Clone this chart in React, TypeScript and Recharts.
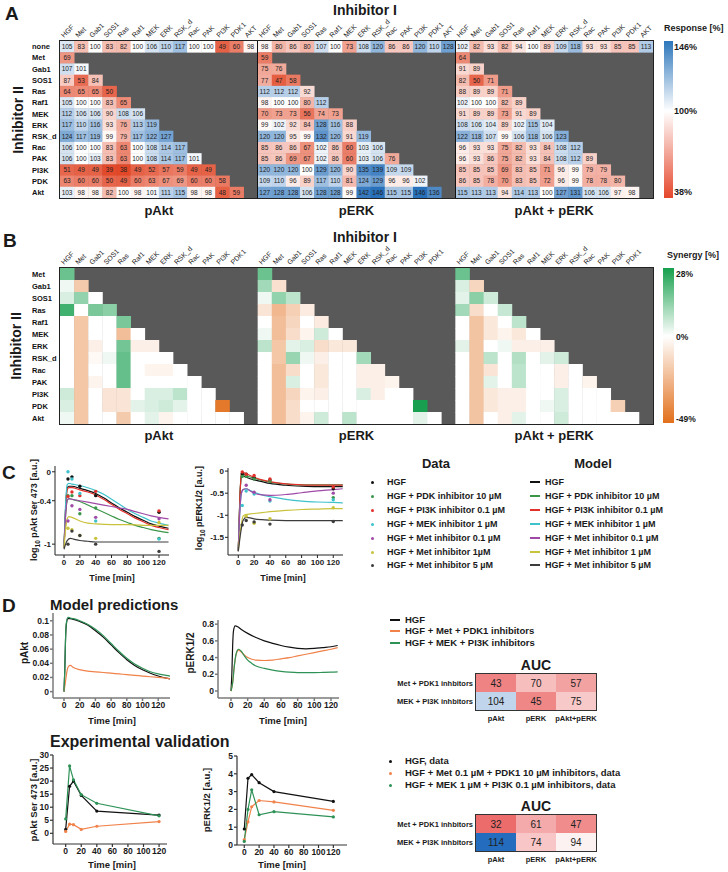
import React from 'react';
import { ScatterChart, Scatter, XAxis, YAxis, ComposedChart, Line } from 'recharts';

const FONT = '"Liberation Sans", Arial, Helvetica, sans-serif';

// ---------- Panel A data ----------
const respCols = ['HGF', 'Met', 'Gab1', 'SOS1', 'Ras', 'Raf1', 'MEK', 'ERK', 'RSK_d', 'Rac', 'PAK', 'PI3K', 'PDK1', 'AKT'];
const respRows = ['none', 'Met', 'Gab1', 'SOS1', 'Ras', 'Raf1', 'MEK', 'ERK', 'RSK_d', 'Rac', 'PAK', 'PI3K', 'PDK', 'Akt'];
const blockNames = ['pAkt', 'pERK', 'pAkt + pERK'];

const respPAkt = [
  [105, 83, 100, 83, 82, 100, 106, 110, 117, 100, 100, 49, 60, 98],
  [69],
  [107, 101],
  [87, 53, 84],
  [64, 65, 65, 50],
  [105, 100, 100, 83, 65],
  [112, 106, 106, 90, 108, 106],
  [117, 110, 116, 93, 76, 113, 119],
  [124, 117, 119, 99, 79, 117, 122, 127],
  [106, 100, 100, 83, 63, 100, 108, 114, 117],
  [106, 100, 103, 83, 63, 100, 108, 114, 117, 101],
  [51, 49, 49, 39, 38, 49, 52, 57, 59, 49, 49],
  [63, 60, 60, 50, 49, 60, 63, 67, 69, 60, 60, 58],
  [103, 98, 98, 82, 100, 98, 101, 111, 115, 98, 98, 48, 59],
];
const respPERK = [
  [98, 80, 86, 80, 107, 100, 73, 108, 120, 86, 86, 120, 110, 128],
  [59],
  [75, 76],
  [77, 47, 58],
  [112, 112, 112, 92],
  [98, 100, 100, 80, 112],
  [70, 73, 73, 56, 74, 73],
  [99, 102, 92, 84, 128, 116, 88],
  [120, 120, 95, 99, 132, 120, 91, 119],
  [85, 86, 86, 67, 102, 86, 60, 103, 106],
  [85, 86, 69, 67, 102, 86, 60, 103, 106, 76],
  [120, 120, 120, 100, 129, 120, 90, 135, 139, 109, 109],
  [109, 110, 96, 89, 117, 110, 81, 124, 129, 96, 96, 102],
  [127, 128, 128, 106, 128, 128, 99, 142, 146, 115, 115, 146, 136],
];
const respBoth = [
  [102, 82, 93, 82, 94, 100, 89, 109, 118, 93, 93, 85, 85, 113],
  [64],
  [91, 89],
  [82, 50, 71],
  [88, 89, 89, 71],
  [102, 100, 100, 82, 89],
  [91, 89, 89, 73, 91, 89],
  [108, 106, 104, 89, 102, 115, 104],
  [122, 118, 107, 99, 106, 118, 106, 123],
  [96, 93, 93, 75, 82, 93, 84, 108, 112],
  [96, 93, 86, 75, 82, 93, 84, 108, 112, 89],
  [85, 85, 85, 69, 83, 85, 71, 96, 99, 79, 79],
  [86, 85, 78, 70, 83, 85, 72, 96, 99, 78, 78, 80],
  [115, 113, 113, 94, 114, 113, 100, 127, 131, 106, 106, 97, 98],
];

// ---------- Panel B data ----------
const synCols = ['HGF', 'Met', 'Gab1', 'SOS1', 'Ras', 'Raf1', 'MEK', 'ERK', 'RSK_d', 'Rac', 'PAK', 'PI3K', 'PDK1'];
const synRows = ['Met', 'Gab1', 'SOS1', 'Ras', 'Raf1', 'MEK', 'ERK', 'RSK_d', 'Rac', 'PAK', 'PI3K', 'PDK', 'Akt'];
const synPAkt = [
  [16],
  [1, -14],
  [3, 11, 0],
  [22, 0, 14, 12],
  [0, -15, 0, 0, 14],
  [0, -15, 0, 0, -18, 0],
  [0, -15, -3, 0, 15, -3, -3],
  [0, -15, -1, 1, 17, 0, 0, 0],
  [0, -15, 0, 0, 17, 0, -2, -2, 0],
  [0, -15, -2, 0, 17, 0, 0, 0, 0, 0],
  [4, -15, 0, -6, -6, 0, 3, 3, 6, 0, 0],
  [3, -15, 0, -6, -6, 2, 3, 4, 2, 0, 0, -45],
  [1, -15, 0, 0, -14, 0, 2, -2, 0, 0, 0, 0, 0],
];
const synPERK = [
  [16],
  [9, -7],
  [1, 11, 6],
  [-6, -20, -12, -4],
  [0, -18, -10, 0, -4],
  [1, -18, -8, -2, 4, 0],
  [6, -15, 2, 3, -8, -5, -5],
  [0, -15, 10, 1, -3, 0, 0, 9],
  [0, -18, -8, 0, -5, 0, 0, -3, -3],
  [0, -18, 3, 0, -5, 0, 0, -3, -3, -2],
  [0, -18, -10, -2, -3, 0, 0, 3, -3, 0, 0],
  [0, -18, -8, 0, 0, 0, 0, 0, 0, 0, 0, 28],
  [0, -18, -8, -2, 4, 0, 6, 0, 0, 0, 0, 2, 0],
];
const synBoth = [
  [16],
  [3, -10],
  [2, 12, 4],
  [9, -8, 0, 5],
  [0, -16, -5, 0, 6],
  [0, -16, -5, -2, -5, 0],
  [2, -16, 0, 1, -3, -3, -3],
  [0, -16, 6, 0, 7, 0, 2, 4],
  [0, -16, -6, 0, 6, 0, 0, -3, 0],
  [0, -16, 2, 0, 6, 0, 0, -3, 0, -2],
  [0, -16, -5, -3, -3, 0, 0, 3, 0, 0, 0],
  [0, -16, -5, -3, -3, 0, 1, 3, 0, 0, 0, -12],
  [0, -16, 0, -3, 2, 0, 0, 4, 0, 0, 0, 0, 0],
];

// ---------- Panel C data ----------
const timeTicks = [0, 20, 40, 60, 80, 100, 120];
const cLabels = ['HGF', 'HGF + PDK inhibitor 10 µM', 'HGF + PI3K inhibitor 0.1 µM', 'HGF + MEK inhibitor 1 µM', 'HGF + Met inhibitor 0.1 µM', 'HGF + Met inhibitor 1µM', 'HGF + Met inhibitor 5 µM'];
const cModelLabels = ['HGF', 'HGF + PDK inhibitor 10 µM', 'HGF + PI3K inhibitor 0.1 µM', 'HGF + MEK inhibitor 1 µM', 'HGF + Met inhibitor 0.1 µM', 'HGF + Met inhibitor 1 µM', 'HGF + Met inhibitor 5 µM'];
const cColors = ['#111111', '#3a9548', '#e2302b', '#3ec2cb', '#a04aa8', '#c9c23c', '#3c3c3c'];

const aktModelHGF = [[0, -1.05], [2, -0.5], [4, -0.22], [6, -0.2], [10, -0.2], [20, -0.23], [30, -0.26], [40, -0.3], [50, -0.36], [60, -0.43], [70, -0.5], [80, -0.56], [90, -0.62], [100, -0.67], [110, -0.72], [120, -0.75], [132, -0.78]];
const aktModelPDK = [[0, -1.05], [2, -0.6], [4, -0.4], [6, -0.37], [10, -0.38], [20, -0.41], [30, -0.46], [40, -0.51], [50, -0.56], [60, -0.61], [70, -0.66], [80, -0.7], [90, -0.74], [100, -0.77], [110, -0.8], [120, -0.82], [132, -0.84]];
const aktModelPI3K = [[0, -1.05], [2, -0.52], [4, -0.25], [6, -0.22], [10, -0.22], [20, -0.25], [30, -0.28], [40, -0.32], [50, -0.38], [60, -0.45], [70, -0.52], [80, -0.58], [90, -0.64], [100, -0.69], [110, -0.74], [120, -0.77], [132, -0.8]];
const aktModelMEK = [[0, -1.05], [2, -0.45], [4, -0.18], [6, -0.16], [10, -0.17], [20, -0.19], [30, -0.22], [40, -0.26], [50, -0.31], [60, -0.38], [70, -0.45], [80, -0.52], [90, -0.58], [100, -0.63], [110, -0.68], [120, -0.71], [132, -0.74]];
const aktModelMet01 = [[0, -1.05], [2, -0.6], [4, -0.39], [6, -0.37], [10, -0.38], [20, -0.4], [30, -0.42], [40, -0.44], [50, -0.46], [60, -0.48], [70, -0.5], [80, -0.52], [90, -0.55], [100, -0.58], [110, -0.61], [120, -0.63], [132, -0.65]];
const aktModelMet1 = [[0, -1.05], [2, -0.8], [4, -0.65], [6, -0.62], [10, -0.63], [20, -0.68], [30, -0.71], [40, -0.72], [60, -0.73], [80, -0.73], [100, -0.74], [120, -0.74], [132, -0.74]];
const aktModelMet5 = [[0, -1.07], [2, -1.0], [4, -0.95], [8, -0.92], [12, -0.93], [20, -0.95], [30, -0.96], [40, -0.97], [60, -0.97], [80, -0.97], [100, -0.97], [120, -0.97], [132, -0.97]];

const aktDataHGF = [[5, -0.1], [10, -0.07], [20, -0.2], [40, -0.33], [120, -0.56]];
const aktDataPDK = [[5, -0.33], [10, -0.33], [20, -0.58], [40, -0.5], [120, -0.92]];
const aktDataPI3K = [[5, -0.34], [10, -0.28], [20, -0.33], [40, -0.27], [120, -0.54]];
const aktDataMEK = [[5, 0.0], [10, -0.1], [20, -0.3], [40, -0.68], [120, -0.93]];
const aktDataMet01 = [[5, -0.68], [10, -0.47], [20, -0.52], [40, -0.63], [120, -0.65]];
const aktDataMet1 = [[5, -0.78], [10, -0.8], [20, -0.88], [40, -0.92], [120, -0.7]];
const aktDataMet5 = [[5, -1.0], [10, -0.82], [20, -0.88], [40, -1.0], [120, -1.1]];

const erkModelHGF = [[0, -1.8], [2, -0.62], [4, -0.12], [6, -0.11], [10, -0.14], [20, -0.2], [30, -0.24], [40, -0.28], [60, -0.32], [80, -0.34], [100, -0.35], [120, -0.35], [132, -0.35]];
const erkModelPDK = [[0, -1.8], [2, -0.6], [4, -0.08], [6, -0.07], [10, -0.1], [20, -0.16], [30, -0.21], [40, -0.25], [60, -0.29], [80, -0.31], [100, -0.31], [120, -0.31], [132, -0.31]];
const erkModelPI3K = [[0, -1.8], [2, -0.6], [4, -0.05], [6, -0.03], [10, -0.06], [20, -0.14], [30, -0.2], [40, -0.24], [60, -0.29], [80, -0.31], [100, -0.32], [120, -0.32], [132, -0.32]];
const erkModelMEK = [[0, -1.8], [2, -0.9], [4, -0.5], [6, -0.42], [10, -0.4], [15, -0.44], [20, -0.48], [30, -0.54], [40, -0.58], [60, -0.64], [80, -0.68], [100, -0.7], [120, -0.71], [132, -0.72]];
const erkModelMet01 = [[0, -1.8], [2, -0.9], [4, -0.5], [6, -0.42], [10, -0.4], [15, -0.45], [20, -0.5], [30, -0.54], [40, -0.55], [60, -0.53], [80, -0.49], [100, -0.45], [120, -0.42], [132, -0.4]];
const erkModelMet1 = [[0, -1.8], [3, -1.3], [6, -1.02], [10, -0.98], [15, -0.97], [20, -0.96], [30, -0.94], [40, -0.92], [60, -0.89], [80, -0.87], [100, -0.86], [120, -0.85], [132, -0.85]];
const erkModelMet5 = [[0, -1.82], [3, -1.4], [6, -1.12], [10, -1.05], [15, -1.06], [20, -1.08], [30, -1.1], [40, -1.11], [60, -1.12], [80, -1.12], [100, -1.12], [120, -1.12], [132, -1.12]];

const erkDataHGF = [[5, -0.06], [10, -0.07], [20, -0.15], [40, -0.2], [120, -0.4]];
const erkDataPDK = [[5, -0.12], [10, -0.12], [20, -0.18], [40, -0.22], [120, -0.6]];
const erkDataPI3K = [[5, -0.02], [10, -0.07], [20, -0.1], [40, -0.18], [120, -0.36]];
const erkDataMEK = [[5, -0.78], [10, -0.45], [20, -0.52], [40, -0.68], [120, -0.65]];
const erkDataMet01 = [[10, -0.32], [20, -0.48], [40, -0.65], [120, -0.5]];
const erkDataMet1 = [[10, -1.02], [20, -1.18], [40, -1.08], [120, -0.83]];
const erkDataMet5 = [[5, -1.22], [10, -1.12], [20, -1.15], [40, -1.2], [120, -1.14]];

// ---------- Panel D data ----------
const dLabels = ['HGF', 'HGF + Met + PDK1 inhibitors', 'HGF + MEK + PI3K inhibitors'];
const dDataLabels = ['HGF, data', 'HGF + Met 0.1 µM + PDK1 10 µM inhibitors, data', 'HGF + MEK 1 µM + PI3K 0.1 µM inhibitors, data'];
const dColors = ['#111111', '#f0824a', '#2e9257'];

const predAktHGF = [[0, 0], [1, 0.03], [2, 0.075], [3, 0.095], [5, 0.103], [8, 0.103], [12, 0.102], [20, 0.099], [30, 0.094], [40, 0.086], [50, 0.077], [60, 0.066], [70, 0.055], [80, 0.045], [90, 0.037], [100, 0.031], [110, 0.026], [120, 0.022], [130, 0.019], [135, 0.018]];
const predAktMetPDK = [[0, 0], [2, 0.015], [4, 0.03], [6, 0.036], [8, 0.037], [12, 0.034], [20, 0.031], [30, 0.029], [40, 0.028], [50, 0.027], [60, 0.026], [70, 0.025], [80, 0.024], [90, 0.023], [100, 0.022], [110, 0.021], [120, 0.02], [130, 0.019], [135, 0.018]];
const predAktMEKPI3K = [[0, 0], [1, 0.03], [2, 0.076], [3, 0.097], [5, 0.105], [8, 0.104], [12, 0.103], [20, 0.1], [30, 0.095], [40, 0.088], [50, 0.079], [60, 0.068], [70, 0.057], [80, 0.047], [90, 0.039], [100, 0.033], [110, 0.028], [120, 0.025], [130, 0.023], [135, 0.022]];
const predErkHGF = [[0, 0], [1, 0.2], [2, 0.55], [3, 0.72], [5, 0.78], [8, 0.77], [12, 0.74], [20, 0.69], [30, 0.64], [40, 0.6], [50, 0.57], [60, 0.545], [70, 0.525], [80, 0.51], [90, 0.505], [100, 0.51], [110, 0.52], [120, 0.53], [128, 0.545]];
const predErkMetPDK = [[0, 0], [2, 0.1], [4, 0.3], [6, 0.43], [9, 0.49], [12, 0.47], [16, 0.43], [20, 0.4], [25, 0.38], [30, 0.37], [40, 0.365], [50, 0.37], [60, 0.385], [70, 0.4], [80, 0.42], [90, 0.44], [100, 0.46], [110, 0.48], [120, 0.5], [128, 0.52]];
const predErkMEKPI3K = [[0, 0], [2, 0.1], [4, 0.3], [6, 0.44], [9, 0.5], [12, 0.48], [16, 0.42], [20, 0.37], [25, 0.33], [30, 0.3], [40, 0.27], [50, 0.25], [60, 0.235], [70, 0.225], [80, 0.22], [90, 0.22], [100, 0.22], [110, 0.222], [120, 0.225], [128, 0.23]];

const expAktHGF = [[0, 1.5], [5, 18], [10, 20], [20, 14.5], [40, 8.5], [120, 7.0]];
const expAktMetPDK = [[0, 0.7], [5, 3.5], [10, 3.3], [20, 1.5], [40, 2.7], [120, 4.5]];
const expAktMEKPI3K = [[0, 5.5], [5, 25.8], [10, 20.5], [20, 14.8], [40, 11.5], [120, 6.7]];
const expErkHGF = [[0, 0.9], [5, 3.75], [10, 3.95], [20, 3.5], [40, 3.0], [120, 2.45]];
const expErkMetPDK = [[0, 0.3], [5, 1.3], [10, 2.15], [20, 2.5], [40, 2.42], [120, 1.95]];
const expErkMEKPI3K = [[0, 0.2], [5, 2.0], [10, 3.1], [20, 1.7], [40, 1.87], [120, 1.58]];

const aucRows = ['Met + PDK1 inhbitors', 'MEK + PI3K inhbitors'];
const aucCols = ['pAkt', 'pERK', 'pAkt+pERK'];
const aucModel = [[43, 70, 57], [104, 45, 75]];
const aucExp = [[32, 61, 47], [114, 74, 94]];

// ---------- helpers ----------
type Pt = { t: number; y: number };
const pts = (arr: number[][]): Pt[] => arr.map(([t, y]) => ({ t, y }));

function mix(c: number[], t: number) {
  const k = Math.max(0, Math.min(1, t));
  return `rgb(${Math.round(255 + (c[0] - 255) * k)},${Math.round(255 + (c[1] - 255) * k)},${Math.round(255 + (c[2] - 255) * k)})`;
}
const respColor = (v: number) =>
  v < 100 ? mix([226, 72, 40], Math.pow((100 - v) / 62, 0.8)) : mix([40, 112, 186], Math.pow((v - 100) / 46, 0.8));
const synColor = (v: number) =>
  v >= 0 ? mix([24, 160, 80], Math.pow(v / 28, 0.8)) : mix([226, 110, 28], Math.pow(-v / 49, 0.8));
const aucColor = (v: number) =>
  v < 100 ? mix([234, 92, 92], (100 - v) / 75) : mix([36, 108, 190], (v - 100) / 14);

type Cell = { x: number; y: number; v: number };
function buildCells(blocks: number[][][]): Cell[] {
  const out: Cell[] = [];
  blocks.forEach((rows, b) => rows.forEach((vals, r) => vals.forEach((v, c) => out.push({ x: b * 14 + c + 0.5, y: r + 0.5, v }))));
  return out;
}

const Txt = (p: { x: number; y: number; s?: number; b?: boolean; a?: string; r?: number; c?: string; children: React.ReactNode }) => {
  const { x, y, s = 9, b = true, a = 'start', r = 0, c = '#1a1a1a', children } = p;
  const tx = a === 'start' ? '0' : a === 'middle' ? '-50%' : '-100%';
  const transform = r ? `translate(-50%,-50%) rotate(${r}deg)` : `translate(${tx},-50%)`;
  return (
    <div style={{ position: 'absolute', left: x, top: y, transform, fontSize: s, fontWeight: b ? 700 : 400, color: c, whiteSpace: 'nowrap', lineHeight: 1 }}>
      {children}
    </div>
  );
};

const LegLine = (p: { x: number; y: number; c: string }) => (
  <div style={{ position: 'absolute', left: p.x, top: Math.round(p.y) - 1, width: 10, height: 2, background: p.c }} />
);
const LegDot = (p: { x: number; y: number; c: string }) => (
  <div style={{ position: 'absolute', left: p.x - 1.5, top: Math.round(p.y) - 1.5, width: 3.2, height: 3.2, borderRadius: 2, background: p.c }} />
);

const PLOT_L = 60;
const PLOT_W = 593;

function Heatmap(props: { top: number; height: number; mt: number; mb: number; rows: string[]; cols: string[]; cells: Cell[]; colorFn: (v: number) => string; showText: boolean; seps: boolean }) {
  const { top, height, mt, mb, rows, cols, cells, colorFn, showText, seps } = props;
  const XH = 30, YW = 30, ML = 30, MR = 728 - PLOT_L - PLOT_W;
  const plotTop = mt + XH;
  const plotH = height - mt - mb - XH;
  const nR = rows.length;
  const colW = PLOT_W / 42;
  const rowH = plotH / nR;
  const xTicks: number[] = [];
  for (let b = 0; b < 3; b++) for (let c = 0; c < cols.length; c++) xTicks.push(b * 14 + c + 0.5);
  const yTicks = rows.map((_, i) => i + 0.5);
  const colTick = (p: any) => {
    const v = p.payload.value as number;
    const lbl = cols[Math.floor(v) % 14];
    const x = p.x - 3;
    const y = plotTop - 3;
    return (
      <text x={x} y={y} transform={`rotate(-45 ${x} ${y})`} fontSize={7} fill="#222" textAnchor="start">
        {lbl}
      </text>
    );
  };
  const rowTick = (p: any) => (
    <text x={32} y={p.y} dy="0.35em" fontSize={7.5} fontWeight={700} fill="#111" textAnchor="start">
      {rows[Math.floor(p.payload.value)]}
    </text>
  );
  const shape = (p: any) => {
    const v = p.payload.v as number;
    return (
      <g>
        <rect x={p.cx - colW / 2} y={p.cy - rowH / 2} width={colW + 0.4} height={rowH + 0.4} fill={colorFn(v)} />
        {showText ? (
          <text x={p.cx} y={p.cy} dy="0.35em" textAnchor="middle" fontSize={6.5} fill="#222">
            {v}
          </text>
        ) : null}
      </g>
    );
  };
  return (
    <div style={{ position: 'absolute', left: 0, top, width: 728, height }}>
      <div style={{ position: 'absolute', left: PLOT_L, top: plotTop, width: PLOT_W, height: plotH, background: '#595959' }} />
      <div style={{ position: 'absolute', left: 0, top: 0 }}>
        <ScatterChart width={728} height={height} margin={{ top: mt, right: MR, bottom: mb, left: ML }}>
          <XAxis type="number" dataKey="x" orientation="top" height={XH} domain={[0, 42]} ticks={xTicks} interval={0} tick={colTick} axisLine={false} tickLine={false} />
          <YAxis type="number" dataKey="y" domain={[0, nR]} reversed width={YW} ticks={yTicks} interval={0} tick={rowTick} axisLine={false} tickLine={false} />
          <Scatter data={cells} shape={shape} isAnimationActive={false} />
        </ScatterChart>
      </div>
      {seps
        ? [1, 2].map((k) => (
            <div key={k} style={{ position: 'absolute', left: PLOT_L + (PLOT_W / 3) * k - 0.5, top: plotTop, width: 1, height: plotH, background: '#111' }} />
          ))
        : null}
      <div style={{ position: 'absolute', left: PLOT_L - 1, top: plotTop - 1, width: PLOT_W, height: plotH, border: '1px solid #222' }} />
    </div>
  );
}

type LineSpec = { data: Pt[]; color: string; w?: number; dots?: boolean; linear?: boolean };
type DotSpec = { data: Pt[]; color: string };

function LinePlot(props: {
  x0: number; y0: number; x1: number; y1: number;
  xDomain: number[]; yDomain: number[]; yTicks: number[]; yw: number;
  lines: LineSpec[]; dots?: DotSpec[]; axisColor: string; axisW: number; fs: number;
}) {
  const { x0, y0, x1, y1, xDomain, yDomain, yTicks, yw, lines, dots = [], axisColor, axisW, fs } = props;
  const ml = 6, mt = 6, mr = 6, mb = 3, xh = 18;
  const L = x0 - yw - ml;
  const T = y0 - mt;
  const W = x1 + mr - L;
  const H = y1 + xh + mb - T;
  const tickStyle = { fontSize: fs, fontWeight: 700, fill: '#1a1a1a' };
  return (
    <div style={{ position: 'absolute', left: L, top: T }}>
      <ComposedChart width={W} height={H} margin={{ top: mt, right: mr, bottom: mb, left: ml }}>
        <XAxis type="number" dataKey="t" domain={xDomain} ticks={timeTicks} interval={0} height={xh} tick={tickStyle} tickSize={3} tickMargin={1} stroke={axisColor} strokeWidth={axisW} />
        <YAxis type="number" dataKey="y" domain={yDomain} ticks={yTicks} interval={0} width={yw} tick={tickStyle} tickSize={3} tickMargin={1} stroke={axisColor} strokeWidth={axisW} />
        {lines.map((l, i) => (
          <Line
            key={'l' + i}
            data={l.data}
            dataKey="y"
            type={l.linear ? 'linear' : 'monotone'}
            stroke={l.color}
            strokeWidth={l.w ?? 1.2}
            dot={l.dots ? { r: 1.6, fill: l.color, stroke: l.color, strokeWidth: 0 } : false}
            isAnimationActive={false}
          />
        ))}
        {dots.map((d, i) => (
          <Scatter
            key={'d' + i}
            data={d.data}
            dataKey="y"
            isAnimationActive={false}
            shape={(p: any) => <circle cx={p.cx} cy={p.cy} r={1.7} fill={d.color} />}
          />
        ))}
      </ComposedChart>
    </div>
  );
}

function AucTable(props: { top: number; values: number[][] }) {
  const { top, values } = props;
  const YW = 92;
  const L = 476 - YW, W = 596 + 4 - L, H = 54;
  const cells: Cell[] = [];
  values.forEach((row, r) => row.forEach((v, c) => cells.push({ x: c + 0.5, y: r + 0.5, v })));
  const plotBottom = 38;
  const colW = 40, rowH = 18;
  const shape = (p: any) => (
    <g>
      <rect x={p.cx - colW / 2} y={p.cy - rowH / 2} width={colW + 0.3} height={rowH + 0.3} fill={aucColor(p.payload.v)} />
      <text x={p.cx} y={p.cy} dy="0.35em" textAnchor="middle" fontSize={10} fill="#222">
        {p.payload.v}
      </text>
    </g>
  );
  return (
    <div style={{ position: 'absolute', left: L, top }}>
      <ScatterChart width={W} height={H} margin={{ top: 2, right: 4, bottom: 2, left: 0 }}>
        <XAxis type="number" dataKey="x" domain={[0, 3]} ticks={[0.5, 1.5, 2.5]} interval={0} height={14} axisLine={false} tickLine={false}
          tick={(p: any) => (
            <text x={p.x} y={plotBottom + 8} dy="0.35em" textAnchor="middle" fontSize={7.5} fontWeight={700} fill="#1a1a1a">
              {aucCols[Math.floor(p.payload.value)]}
            </text>
          )} />
        <YAxis type="number" dataKey="y" domain={[0, 2]} reversed ticks={[0.5, 1.5]} interval={0} width={YW} axisLine={false} tickLine={false}
          tick={(p: any) => (
            <text x={YW - 3} y={p.y} dy="0.35em" textAnchor="end" fontSize={7.5} fontWeight={700} fill="#1a1a1a">
              {aucRows[Math.floor(p.payload.value)]}
            </text>
          )} />
        <Scatter data={cells} shape={shape} isAnimationActive={false} />
      </ScatterChart>
      <div style={{ position: 'absolute', left: YW - 1, top: 1, width: 120, height: 36, border: '1px solid #333' }} />
    </div>
  );
}

export default function App() {
  const respCells = buildCells([respPAkt, respPERK, respBoth]);
  const synCells = buildCells([synPAkt, synPERK, synBoth]);
  const blockCenters = [0, 1, 2].map((b) => PLOT_L + (PLOT_W / 3) * b + (PLOT_W / 3) / 2);

  const cAktLines = [aktModelHGF, aktModelPDK, aktModelPI3K, aktModelMEK, aktModelMet01, aktModelMet1, aktModelMet5];
  const cAktDots = [aktDataHGF, aktDataPDK, aktDataPI3K, aktDataMEK, aktDataMet01, aktDataMet1, aktDataMet5];
  const cErkLines = [erkModelHGF, erkModelPDK, erkModelPI3K, erkModelMEK, erkModelMet01, erkModelMet1, erkModelMet5];
  const cErkDots = [erkDataHGF, erkDataPDK, erkDataPI3K, erkDataMEK, erkDataMet01, erkDataMet1, erkDataMet5];

  const legendY = [482, 495.9, 509.8, 523.7, 537.6, 551.5, 565.4];

  return (
    <div style={{ position: 'absolute', left: 0, top: 0, width: 728, height: 872, background: '#fff', fontFamily: FONT, overflow: 'hidden' }}>
      {/* ---------------- Panel A ---------------- */}
      <Txt x={5} y={13} s={19}>A</Txt>
      <Txt x={365} y={10} s={14} a="middle">Inhibitor I</Txt>
      <Txt x={18} y={120} s={14} r={-90}>Inhibitor II</Txt>
      <Heatmap top={0} height={200} mt={11} mb={2} rows={respRows} cols={respCols} cells={respCells} colorFn={respColor} showText seps />
      {blockNames.map((n, i) => (
        <Txt key={n} x={blockCenters[i]} y={210} s={13} a="middle">{n}</Txt>
      ))}
      <Txt x={664} y={28} s={9}>Response [%]</Txt>
      <div style={{ position: 'absolute', left: 664, top: 41, width: 9, height: 157, background: 'linear-gradient(to bottom, #2c76bb 0%, #ffffff 44.6%, #e5472b 100%)' }} />
      <Txt x={674} y={47} s={9}>146%</Txt>
      <Txt x={674} y={111} s={9}>100%</Txt>
      <Txt x={674} y={192} s={9}>38%</Txt>

      {/* ---------------- Panel B ---------------- */}
      <Txt x={3} y={240} s={19}>B</Txt>
      <Txt x={365} y={237} s={14} a="middle">Inhibitor I</Txt>
      <Txt x={16} y={346} s={14} r={-90}>Inhibitor II</Txt>
      <Heatmap top={225} height={202} mt={13} mb={3} rows={synRows} cols={synCols} cells={synCells} colorFn={synColor} showText={false} seps={false} />
      {blockNames.map((n, i) => (
        <Txt key={'b' + n} x={blockCenters[i]} y={435} s={13} a="middle">{n}</Txt>
      ))}
      <Txt x={667} y={255} s={9}>Synergy [%]</Txt>
      <div style={{ position: 'absolute', left: 663, top: 268, width: 11, height: 155, background: 'linear-gradient(to bottom, #16a04c 0%, #ffffff 44%, #e2701c 100%)' }} />
      <Txt x={676} y={274} s={8.5}>28%</Txt>
      <Txt x={676} y={337} s={8.5}>0%</Txt>
      <Txt x={676} y={419} s={8.5}>-49%</Txt>

      {/* ---------------- Panel C ---------------- */}
      <Txt x={2} y={472} s={19}>C</Txt>
      <LinePlot x0={55} y0={466} x1={169} y1={555} xDomain={[-11.4, 132.6]} yDomain={[-1.15, 0.08]} yTicks={[0, -0.4, -1]} yw={22}
        lines={cAktLines.map((d, i) => ({ data: pts(d), color: cColors[i], w: 1.2 }))}
        dots={cAktDots.map((d, i) => ({ data: pts(d), color: cColors[i] }))}
        axisColor="#222" axisW={1} fs={8} />
      <LinePlot x0={228} y0={468} x1={343} y1={555} xDomain={[-13, 132.3]} yDomain={[-1.9, 0.07]} yTicks={[0, -0.5, -1, -1.5]} yw={22}
        lines={cErkLines.map((d, i) => ({ data: pts(d), color: cColors[i], w: 1.2 }))}
        dots={cErkDots.map((d, i) => ({ data: pts(d), color: cColors[i] }))}
        axisColor="#222" axisW={1} fs={8} />
      <Txt x={36} y={510} s={9} r={-90}>log<sub style={{ fontSize: 6.5 }}>10</sub> pAkt Ser 473 [a.u.]</Txt>
      <Txt x={201} y={508} s={9} r={-90}>log<sub style={{ fontSize: 6.5 }}>10</sub> pERK1/2 [a.u.]</Txt>
      <Txt x={112} y={578} s={9} a="middle">Time [min]</Txt>
      <Txt x={283} y={578} s={9} a="middle">Time [min]</Txt>

      <Txt x={436} y={463} s={13} a="middle">Data</Txt>
      <Txt x={593} y={463} s={13} a="middle">Model</Txt>
      {cLabels.map((lbl, i) => (
        <React.Fragment key={'cl' + i}>
          <LegDot x={372} y={legendY[i]} c={cColors[i]} />
          <Txt x={387} y={legendY[i]} s={9}>{lbl}</Txt>
        </React.Fragment>
      ))}
      {cModelLabels.map((lbl, i) => (
        <React.Fragment key={'cm' + i}>
          <LegLine x={530} y={legendY[i]} c={cColors[i]} />
          <Txt x={545} y={legendY[i]} s={9}>{lbl}</Txt>
        </React.Fragment>
      ))}

      {/* ---------------- Panel D ---------------- */}
      <Txt x={2} y={605} s={19}>D</Txt>
      <Txt x={50} y={604} s={15}>Model predictions</Txt>
      <LinePlot x0={53} y0={613} x1={170} y1={698} xDomain={[-14, 133.5]} yDomain={[-0.009, 0.111]} yTicks={[0, 0.02, 0.04, 0.06, 0.08, 0.1]} yw={26}
        lines={[predAktHGF, predAktMetPDK, predAktMEKPI3K].map((d, i) => ({ data: pts(d), color: dColors[i], w: 1.2 }))}
        axisColor="#7a7a7a" axisW={1.5} fs={8.5} />
      <LinePlot x0={218} y0={620} x1={339} y1={698} xDomain={[-15.6, 129.6]} yDomain={[-0.084, 0.85]} yTicks={[0, 0.2, 0.4, 0.6, 0.8]} yw={22}
        lines={[predErkHGF, predErkMetPDK, predErkMEKPI3K].map((d, i) => ({ data: pts(d), color: dColors[i], w: 1.2 }))}
        axisColor="#7a7a7a" axisW={1.5} fs={8.5} />
      <Txt x={25} y={653} s={10} r={-90}>pAkt</Txt>
      <Txt x={191} y={653} s={10} r={-90}>pERK1/2</Txt>
      <Txt x={112} y={721} s={9.5} a="middle">Time [min]</Txt>
      <Txt x={283} y={721} s={9.5} a="middle">Time [min]</Txt>

      {dLabels.map((lbl, i) => (
        <React.Fragment key={'dl' + i}>
          <LegLine x={390} y={620 + i * 11.3} c={dColors[i]} />
          <Txt x={405} y={620 + i * 11.3} s={9.5}>{lbl}</Txt>
        </React.Fragment>
      ))}
      <Txt x={536} y={665} s={14} a="middle">AUC</Txt>
      <AucTable top={672} values={aucModel} />

      <Txt x={50} y={742} s={16}>Experimental validation</Txt>
      <LinePlot x0={53} y0={755} x1={167} y1={844} xDomain={[-16.3, 130.2]} yDomain={[-4.1, 30]} yTicks={[0, 5, 10, 15, 20, 25, 30]} yw={22}
        lines={[expAktHGF, expAktMetPDK, expAktMEKPI3K].map((d, i) => ({ data: pts(d), color: dColors[i], w: 1.2, dots: true, linear: true }))}
        axisColor="#333" axisW={1.2} fs={8.5} />
      <LinePlot x0={237} y0={756} x1={347} y1={845} xDomain={[-9.8, 138.4]} yDomain={[0, 5]} yTicks={[0, 1, 2, 3, 4, 5]} yw={16}
        lines={[expErkHGF, expErkMetPDK, expErkMEKPI3K].map((d, i) => ({ data: pts(d), color: dColors[i], w: 1.2, dots: true, linear: true }))}
        axisColor="#333" axisW={1.2} fs={8.5} />
      <Txt x={34} y={800} s={9.5} r={-90}>pAkt Ser 473 [a.u.]</Txt>
      <Txt x={207} y={800} s={9.5} r={-90}>pERK1/2 [a.u.]</Txt>
      <Txt x={112} y={865} s={9.5} a="middle">Time [min]</Txt>
      <Txt x={282} y={865} s={9.5} a="middle">Time [min]</Txt>

      {dDataLabels.map((lbl, i) => (
        <React.Fragment key={'dd' + i}>
          <LegDot x={390} y={760.7 + i * 12.1} c={dColors[i]} />
          <Txt x={405} y={760.7 + i * 12.1} s={9.5}>{lbl}</Txt>
        </React.Fragment>
      ))}
      <Txt x={536} y={806} s={14} a="middle">AUC</Txt>
      <AucTable top={813} values={aucExp} />
    </div>
  );
}
